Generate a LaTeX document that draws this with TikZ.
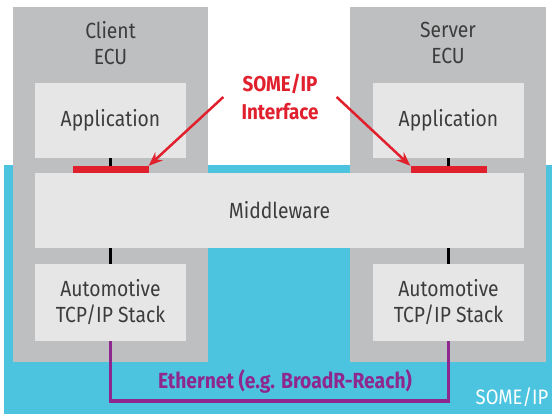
\documentclass[tikz,border=0pt]{standalone}
\usepackage{fontspec}
\setmainfont[FakeStretch=0.88]{Fira Sans}
\usetikzlibrary{arrows.meta}
\definecolor{ecugray}{RGB}{190,191,193}
\definecolor{boxgray}{RGB}{230,230,230}
\definecolor{busblue}{RGB}{76,196,223}
\definecolor{ifred}{RGB}{225,32,46}
\definecolor{ethpurple}{RGB}{142,39,143}
\definecolor{txtgray}{RGB}{60,60,60}

\begin{document}
\begin{tikzpicture}[x=1bp,y=-1bp,
    ecu/.style={shape=rectangle,fill=ecugray,inner sep=0pt,minimum height=355bp},
    layer/.style={shape=rectangle,fill=boxgray,inner sep=0pt,text=txtgray,align=center,
        font=\fontsize{22}{26}\selectfont},
    bar/.style={shape=rectangle,fill=ifred,inner sep=0pt,minimum width=76bp,minimum height=7bp},
    tick/.style={draw=black,line width=3.5bp},
    ifarrow/.style={draw=ifred,line width=2.5bp,-{Stealth[length=14bp,width=11bp]}}]
        \useasboundingbox (0,0) rectangle (552,416);
        \fill[busblue] (4,165) rectangle (552,414);

        \node[ecu,minimum width=195bp] (cecu) at (110.5,184.5) {};
        \node[ecu,minimum width=196bp] (secu) at (448,184.5) {};
        \node[layer,fill=none] (ctitle) at (110.5,43) {Client\\ECU};
        \node[layer,fill=none] (stitle) at (448,43) {Server\\ECU};

        \node[layer,minimum width=151bp,minimum height=75bp] (capp) at (110.5,120.5) {Application};
        \node[layer,minimum width=151bp,minimum height=75bp] (sapp) at (448.5,120.5) {Application};
        \node[layer,minimum width=489bp,minimum height=75bp] (mw) at (279.5,210.5) {Middleware};
        \node[layer,minimum width=151bp,minimum height=77bp] (cstack) at (110.5,302.5) {Automotive\\TCP/IP Stack};
        \node[layer,minimum width=151bp,minimum height=77bp] (sstack) at (448.5,302.5) {Automotive\\TCP/IP Stack};

        \node[bar] (cbar) at (110.5,169.5) {};
        \node[bar] (sbar) at (448.5,169.5) {};

        \path[tick] (capp) edge (cbar);
        \path[tick] (sapp) edge (sbar);
        \path[tick] (mw.south -| cstack) edge (cstack);
        \path[tick] (mw.south -| sstack) edge (sstack);

        \draw[ethpurple,line width=3.5bp] (cstack.south) -- ++(0,60) -| (sstack.south);
        \node[text=ethpurple,font=\fontsize{22}{26}\bfseries] (eth) at (285,382) {Ethernet (e.g. BroadR-Reach)};
        \node[text=white,font=\fontsize{21}{24}\selectfont] (tag) at (512,397) {SOME/IP};

        \node[text=ifred,align=center,inner xsep=18bp,font=\fontsize{21.5}{28}\bfseries] (iface) at (280,97) {SOME/IP\\Interface};
        \draw[ifarrow] (iface.west) -- (cbar.north east);
        \draw[ifarrow] (iface.east) -- (sbar.north west);
\end{tikzpicture}
\end{document}
